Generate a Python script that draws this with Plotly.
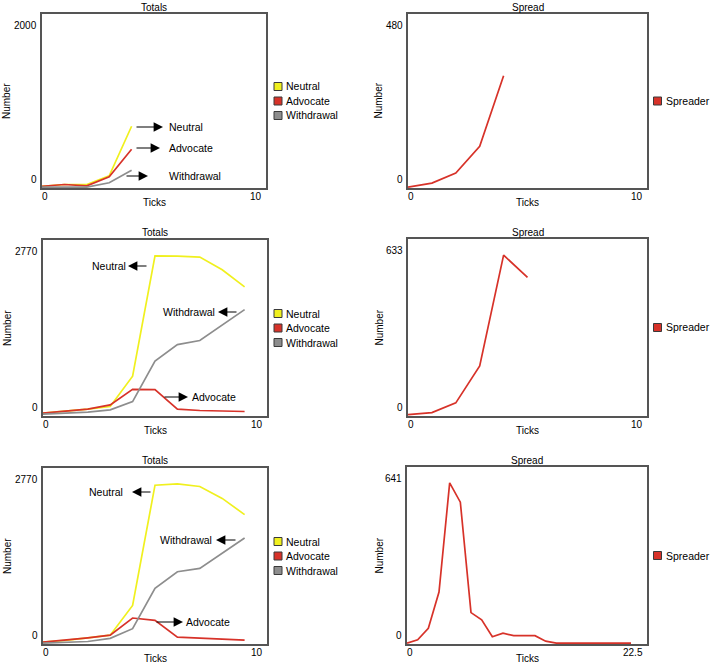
import plotly.graph_objects as go

W, H = 712, 665
FONT = "Liberation Sans, Arial, Helvetica, sans-serif"

# ---------------- data ----------------
series_names = ["Neutral", "Advocate", "Withdrawal"]
spread_name = "Spreader"
panel_titles = ["Totals", "Spread", "Totals", "Spread", "Totals", "Spread"]
x_title = "Ticks"
y_title = "Number"
y_min_labels = ["0", "0", "0", "0", "0", "0"]
y_max_labels = ["2000", "480", "2770", "633", "2770", "641"]
x_min_labels = ["0", "0", "0", "0", "0", "0"]
x_max_labels = ["10", "10", "10", "10", "10", "22.5"]

# run 1 (top row)
run1_ticks = [0, 1, 2, 3, 4]
run1_neutral = [10, 30, 30, 130, 703]
run1_advocate = [10, 30, 15, 119, 438]
run1_withdrawal = [0, 0, 0, 50, 196]
run1_spread_ticks = [0, 1, 2, 3, 4]
run1_spreader = [0, 11, 39, 113, 309]

# run 2 (middle row)
run2_ticks = [0, 1, 2, 3, 4, 5, 6, 7, 8, 9]
run2_neutral = [31, 57, 94, 136, 616, 2518, 2515, 2499, 2300, 2029]
run2_advocate = [31, 57, 94, 162, 407, 402, 94, 73, 63, 57]
run2_withdrawal = [15, 31, 47, 83, 214, 856, 1116, 1179, 1424, 1669]
run2_spread_ticks = [0, 1, 2, 3, 4, 5]
run2_spreader = [2, 9, 44, 177, 575, 495]

# run 3 (bottom row)
run3_ticks = [0, 1, 2, 3, 4, 5, 6, 7, 8, 9]
run3_neutral = [16, 42, 84, 125, 596, 2498, 2518, 2477, 2289, 2033]
run3_advocate = [16, 47, 84, 125, 397, 360, 94, 78, 63, 47]
run3_withdrawal = [0, 8, 25, 75, 228, 867, 1129, 1181, 1421, 1662]
run3_spread_ticks = [0, 1, 2, 3, 4, 5, 6, 7, 8, 9, 10, 11, 12, 13, 14, 15,
                     16, 17, 18, 19, 20, 21]
run3_spreader = [0, 12, 54, 186, 583, 513, 111, 85, 23, 36, 27, 27, 27, 7,
                 0, 0, 0, 0, 0, 0, 0, 0]

# ---------------- styling ----------------
C_NEUTRAL = "rgb(240,240,30)"
C_ADVOCATE = "rgb(215,50,41)"
C_WITHDRAWAL = "rgb(141,141,141)"
series_colors = [C_NEUTRAL, C_ADVOCATE, C_WITHDRAWAL]

# plot boxes in pixels: left, right, top, bottom
boxes = [(42, 266, 14, 188), (408, 647, 14, 188),
         (43, 267, 240, 416), (408, 647, 239, 416),
         (43, 267, 468, 644), (407, 647, 467, 644)]
number_x = [7, 378.5, 7, 379, 7, 379]

panels = [
    (run1_ticks, [run1_neutral, run1_advocate, run1_withdrawal]),
    (run1_spread_ticks, [run1_spreader]),
    (run2_ticks, [run2_neutral, run2_advocate, run2_withdrawal]),
    (run2_spread_ticks, [run2_spreader]),
    (run3_ticks, [run3_neutral, run3_advocate, run3_withdrawal]),
    (run3_spread_ticks, [run3_spreader]),
]

fig = go.Figure()
layout = dict(
    width=W, height=H, autosize=False,
    margin=dict(l=0, r=0, t=0, b=0),
    paper_bgcolor="white", plot_bgcolor="white",
    showlegend=False,
    font=dict(family=FONT, size=10, color="black"),
)
annotations = []
shapes = []


def px(x):
    return x / W


def py(y):
    return 1 - y / H


def label(text, x, y, xanchor="center", size=10, angle=0):
    annotations.append(dict(
        text=text, x=px(x), y=py(y), xref="paper", yref="paper",
        xanchor=xanchor, yanchor="middle", showarrow=False,
        textangle=angle, font=dict(family=FONT, size=size, color="black"),
        borderpad=0,
    ))


axstyle = dict(showgrid=False, zeroline=False, showticklabels=False,
               ticks="", showline=True, mirror=True,
               linecolor="#555555", linewidth=1.5, fixedrange=True)

for i, (l, r, t, b) in enumerate(boxes):
    n = "" if i == 0 else str(i + 1)
    xmax = float(x_max_labels[i])
    ymax = float(y_max_labels[i])
    pad = ymax * 0.9 / (b - t)
    layout["xaxis" + n] = dict(domain=[px(l), px(r)], range=[0, xmax],
                               anchor="y" + n, **axstyle)
    layout["yaxis" + n] = dict(domain=[py(b), py(t)], range=[-pad, ymax],
                               anchor="x" + n, **axstyle)

    xs, ys_list = panels[i]
    if len(ys_list) == 3:
        names = series_names
        colors = series_colors
    else:
        names = [spread_name]
        colors = [C_ADVOCATE]
    for name, ys, col in zip(names, ys_list, colors):
        fig.add_trace(go.Scatter(
            x=xs, y=ys, mode="lines", name=name,
            line=dict(color=col, width=1.7),
            xaxis="x" + n, yaxis="y" + n, showlegend=False,
        ))

    cx = (l + r) / 2
    cy = (t + b) / 2
    # title
    label(panel_titles[i], cx, t - 7)
    # y labels
    label(y_max_labels[i], l - 4, t + 11.5, xanchor="right")
    label(y_min_labels[i], l - 4, b - 8.5, xanchor="right")
    # x labels
    label(x_min_labels[i], l - 1, b + 8, xanchor="left")
    label(x_max_labels[i], r - 3, b + 8, xanchor="right")
    # axis titles
    label(x_title, cx, b + 14.5)
    label(y_title, number_x[i], cy, angle=-90)

    # legend (manual, square swatches)
    sq_x = 278 if i % 2 == 0 else 657.5
    k = len(names)
    for j, (name, col) in enumerate(zip(names, colors)):
        yy = cy + (j - (k - 1) / 2) * 14.5
        shapes.append(dict(
            type="rect", xref="paper", yref="paper",
            x0=px(sq_x - 4), x1=px(sq_x + 4),
            y0=py(yy + 4), y1=py(yy - 4),
            fillcolor=col, line=dict(color="#3a3a3a", width=1),
        ))
        label(name, sq_x + 7, yy, xanchor="left", size=10.5)

# callout arrows with labels on the Totals plots
arrows = [
    ("Neutral", (135, 127), (163, 127), 168, "left"),
    ("Advocate", (135, 148), (160, 148), 168, "left"),
    ("Withdrawal", (125, 176), (148, 176), 168, "left"),
    ("Neutral", (148, 266), (128, 266), 126.5, "right"),
    ("Withdrawal", (238, 312), (218, 312), 216.5, "right"),
    ("Advocate", (163, 397), (188, 397), 191.5, "left"),
    ("Neutral", (152, 492), (132, 492), 123.5, "right"),
    ("Withdrawal", (237, 540), (216, 540), 212.5, "right"),
    ("Advocate", (155, 622), (183, 622), 185, "left"),
]
for text, tail, head, tx, anchor in arrows:
    annotations.append(dict(
        text="", x=px(head[0]), y=py(head[1]), xref="paper", yref="paper",
        ax=tail[0] - head[0], ay=tail[1] - head[1],
        showarrow=True, arrowhead=2, arrowsize=1.7, arrowwidth=1.1,
        arrowcolor="black", standoff=0, startstandoff=0,
    ))
    label(text, tx, head[1], xanchor=anchor, size=10.5)

layout["annotations"] = annotations
layout["shapes"] = shapes
fig.update_layout(**layout)

fig.write_html("out.html", config={"displayModeBar": False},
               post_script="document.body.style.margin='0';")
